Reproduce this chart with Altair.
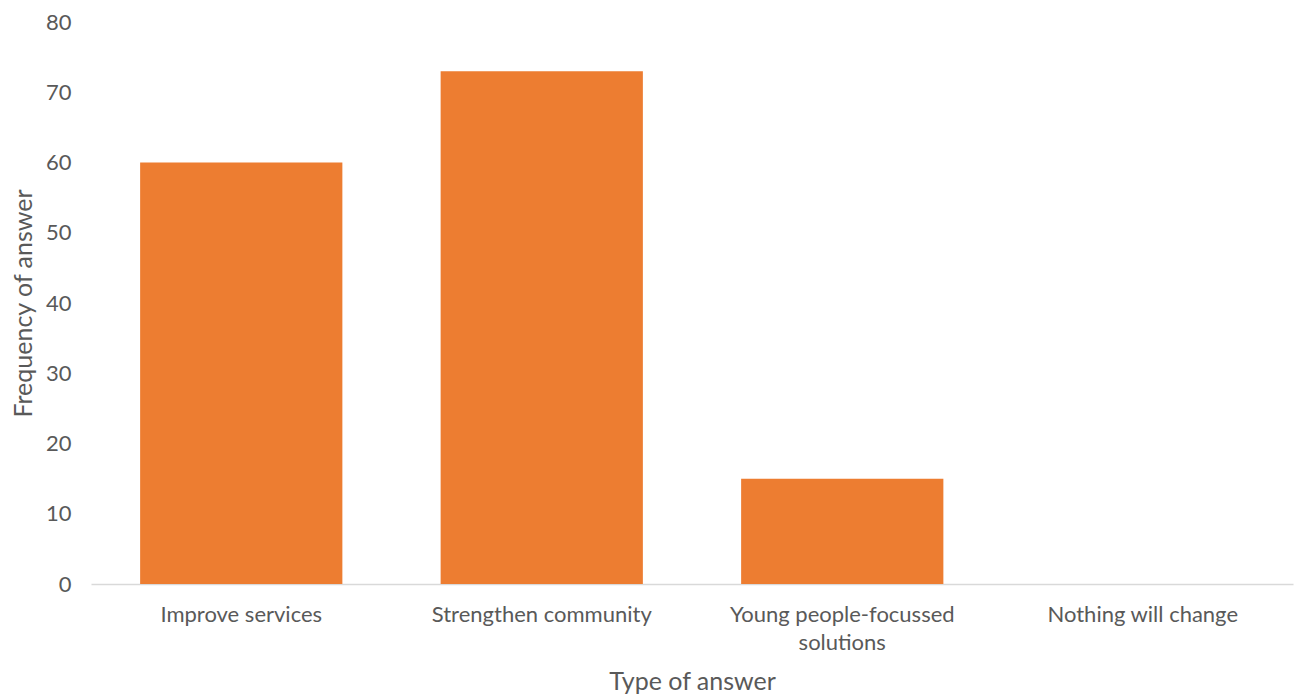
import altair as alt
import pandas as pd

categories = ["Improve services", "Strengthen community", "Young people-focussed solutions", "Nothing will change"]
values = [60, 73, 15, 0]

df = pd.DataFrame({"category": categories, "value": values})

FONT = "Lato"
TXT = "#595959"

chart = alt.Chart(df).mark_bar(color="#ED7D31").encode(
    x=alt.X(
        "category:N",
        sort=categories,
        title="Type of answer",
        scale=alt.Scale(paddingInner=0.327, paddingOuter=0.1635),
        axis=alt.Axis(
            labelAngle=0,
            labelExpr="datum.label == 'Young people-focussed solutions' ? ['Young people-focussed', 'solutions'] : datum.label",
            labelLineHeight=28,
            labelPadding=20,
            labelLimit=0,
            ticks=False,
            domainColor="#D9D9D9",
            domainWidth=1.3,
            titlePadding=16,
        ),
    ),
    y=alt.Y(
        "value:Q",
        title="Frequency of answer",
        scale=alt.Scale(domain=[0, 80]),
        axis=alt.Axis(
            values=[0, 10, 20, 30, 40, 50, 60, 70, 80],
            grid=False,
            domain=False,
            ticks=False,
            labelPadding=20,
            titlePadding=9,
        ),
    ),
).properties(
    width=1202,
    height=562,
    padding={"left": 3, "top": 3, "right": 2, "bottom": 2},
).configure_axis(
    labelFont=FONT,
    titleFont=FONT,
    labelFontSize=22,
    titleFontSize=25,
    labelColor=TXT,
    titleColor=TXT,
    titleFontWeight="normal",
).configure_view(stroke=None)

chart.save("out.html", embed_options={"renderer": "svg", "actions": False})
